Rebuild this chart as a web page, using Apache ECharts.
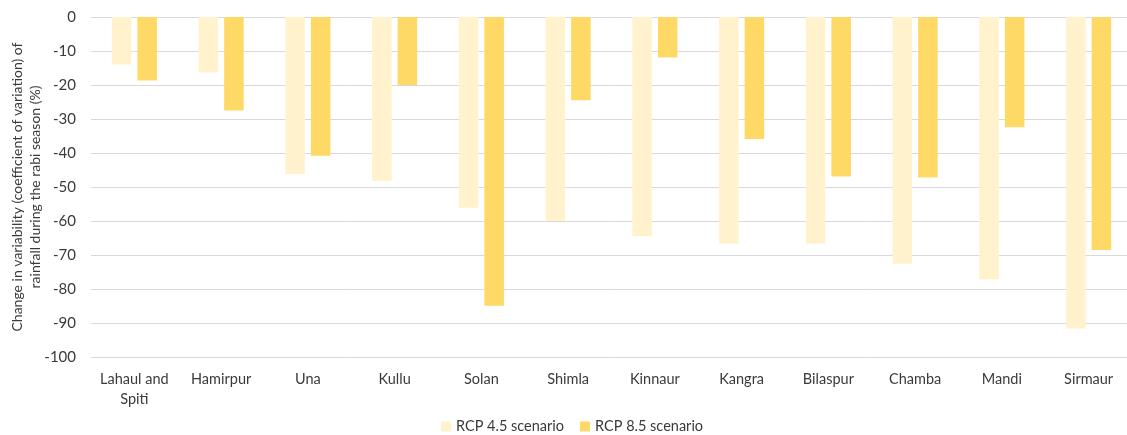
<!DOCTYPE html>
<html>
<head>
<meta charset="utf-8">
<script src="https://cdn.jsdelivr.net/npm/echarts@6/dist/echarts.min.js"></script>
<style>
  html, body { margin: 0; padding: 0; background: #fff; }
  #chart { width: 1127px; height: 435px; }
</style>
</head>
<body>
<div id="chart"></div>
<script>
// Districts of Himachal Pradesh
const districts = ['Lahaul and\nSpiti', 'Hamirpur', 'Una', 'Kullu', 'Solan', 'Shimla',
  'Kinnaur', 'Kangra', 'Bilaspur', 'Chamba', 'Mandi', 'Sirmaur'];

// Change in coefficient of variation of rabi-season rainfall (%)
const rcp45 = [-14.0, -16.3, -46.2, -48.2, -56.1, -60.0, -64.5, -66.6, -66.6, -72.6, -77.1, -91.6];
const rcp85 = [-18.7, -27.5, -40.8, -20.0, -84.9, -24.5, -11.9, -35.9, -46.9, -47.2, -32.4, -68.5];

const seriesNames = ['RCP 4.5 scenario', 'RCP 8.5 scenario'];
const yTicks = { min: -100, max: 0, interval: 10 };

const font = 'Lato, "Open Sans", sans-serif';
const textColor = '#3a3a3a';
const chart = echarts.init(document.getElementById('chart'), null, { renderer: 'canvas' });

chart.setOption({
  animation: false,
  textStyle: { fontFamily: font },
  legend: {
    data: seriesNames,
    top: 414,
    left: 436,
    itemWidth: 10,
    itemHeight: 10,
    itemGap: 16,
    icon: 'rect',
    textStyle: { fontSize: 14.5, color: textColor, fontFamily: font }
  },
  grid: { left: 91, top: 17, width: 1041, height: 340, outerBoundsMode: 'none', containLabel: false },
  xAxis: {
    type: 'category',
    data: districts,
    position: 'bottom',
    axisLine: { show: false },
    axisTick: { show: false },
    axisLabel: {
      interval: 0,
      color: textColor,
      fontSize: 14.5,
      lineHeight: 20,
      margin: 12,
      fontFamily: font
    }
  },
  yAxis: {
    type: 'value',
    min: yTicks.min,
    max: yTicks.max,
    interval: yTicks.interval,
    name: 'Change in variability (coefficient of variation) of\nrainfall during the rabi season (%)',
    nameLocation: 'middle',
    nameGap: 47,
    nameMoveOverlap: false,
    nameTextStyle: { fontSize: 14, color: textColor, lineHeight: 18, fontFamily: font },
    axisLine: { show: false },
    axisTick: { show: false },
    axisLabel: { color: textColor, fontSize: 15, margin: 15, fontFamily: font },
    splitLine: { lineStyle: { color: '#D9D9D9', width: 1 } }
  },
  series: [
    {
      name: seriesNames[0],
      type: 'bar',
      data: rcp45,
      barWidth: '22.5%',
      barGap: '31%',
      itemStyle: { color: '#FFF2CC' }
    },
    {
      name: seriesNames[1],
      type: 'bar',
      data: rcp85,
      barWidth: '22.5%',
      itemStyle: { color: '#FFD966' }
    }
  ]
});
</script>
</body>
</html>
